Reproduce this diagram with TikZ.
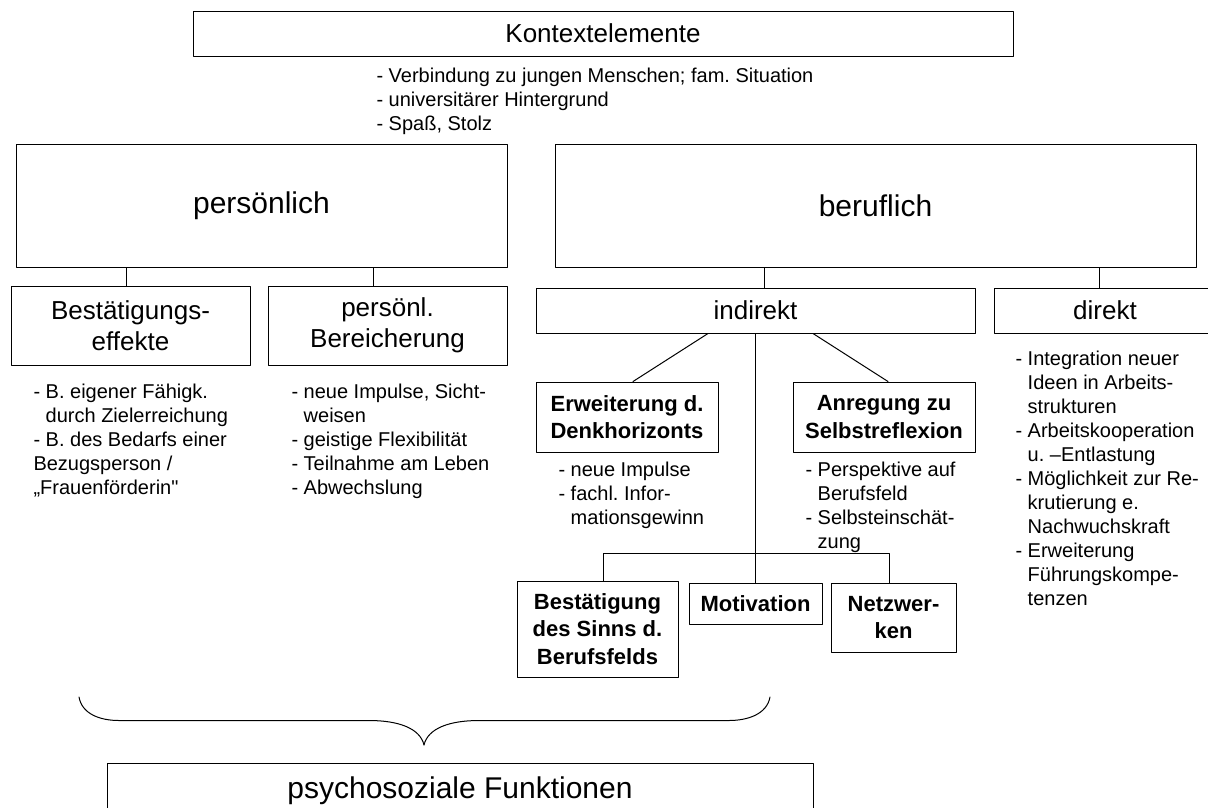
\documentclass[tikz,border=0pt]{standalone}
\usepackage{fontspec}
\setmainfont{Liberation Sans}
\newcommand{\punkte}[1]{\begin{tabular}[t]{@{}l@{}}#1\end{tabular}}
\newcommand{\ein}{\hphantom{- }}
\frenchspacing

\begin{document}
\begin{tikzpicture}[line cap=round,line join=round,x=1pt,y=-1pt,line width=1pt,
	kasten/.style={draw,inner sep=0pt,align=center},
	gross/.style={font=\fontsize{30}{36}\selectfont},
	mittel/.style={font=\fontsize{26}{31}\selectfont},
	fett/.style={font=\bfseries\fontsize{22}{27.5}\selectfont},
	notiz/.style={anchor=base west,inner sep=0pt,font=\fontsize{20}{24}\selectfont}]
			\useasboundingbox (0,0) rectangle (1208,807);
			% Ebene 0
			\node[kasten,mittel,minimum width=820pt,minimum height=45pt] (kontext) at (603,33.5) {Kontextelemente};
			\node[notiz] (kontextliste) at (376,82) {\punkte{- Verbindung zu jungen Menschen; fam. Situation\\- universitärer Hintergrund\\- Spaß, Stolz}};
			% Ebene 1
			\node[kasten,gross,minimum width=491pt,minimum height=123pt] (pers) at (261.5,205.5) {persönlich};
			\node[kasten,gross,minimum width=641pt,minimum height=123pt] (beruf) at (875.5,205.5) {beruflich};
			% Ebene 2
			\node[kasten,mittel,minimum width=239pt,minimum height=79pt] (best) at (130.5,325.5) {Bestätigungs-\\effekte};
			\node[kasten,mittel,minimum width=239pt,minimum height=79pt] (berei) at (387.5,325.5) {persönl.\\Bereicherung};
			\node[kasten,mittel,minimum width=439pt,minimum height=45pt] (indir) at (755.5,310.5) {indirekt};
			\node[kasten,mittel,minimum width=222pt,minimum height=45pt] (dir) at (1105,310.5) {direkt};
			\node[notiz] (bestliste) at (33,398) {\punkte{- B. eigener Fähigk.\\\ein durch Zielerreichung\\- B. des Bedarfs einer\\Bezugsperson /\\„Frauenförderin\textquotedbl}};
			\node[notiz] (bereiliste) at (291,398) {\punkte{- neue Impulse, Sicht-\\\ein weisen\\- geistige Flexibilität\\- Teilnahme am Leben\\- Abwechslung}};
			\node[notiz] (dirliste) at (1015,365) {\punkte{- Integration neuer\\\ein Ideen in Arbeits-\\\ein strukturen\\- Arbeitskooperation\\\ein u. –Entlastung\\- Möglichkeit zur Re-\\\ein krutierung e.\\\ein Nachwuchskraft\\- Erweiterung\\\ein Führungskompe-\\\ein tenzen}};
			% Ebene 3
			\node[kasten,fett,minimum width=182pt,minimum height=70pt] (erw) at (627,417) {Erweiterung d.\\Denkhorizonts};
			\node[kasten,fett,minimum width=182pt,minimum height=70pt] (anr) at (884,417) {Anregung zu\\Selbstreflexion};
			\node[notiz] (erwliste) at (558,476) {\punkte{- neue Impulse\\- fachl. Infor-\\\ein mationsgewinn}};
			\node[notiz] (anrliste) at (805,476) {\punkte{- Perspektive auf\\\ein Berufsfeld\\- Selbsteinschät-\\\ein zung}};
			% Ebene 4
			\node[kasten,fett,minimum width=161pt,minimum height=96pt] (sinn) at (597.5,629) {Bestätigung\\des Sinns d.\\Berufsfelds};
			\node[kasten,fett,minimum width=133pt,minimum height=41pt] (motiv) at (755.5,603.5) {Motivation};
			\node[kasten,fett,minimum width=125pt,minimum height=69pt] (netz) at (893.5,617.5) {Netzwer-\\ken};
			% Klammer
			\draw (79,697) .. controls (82,714) and (100,720.5) .. (119,720.5)--(369,720.5)
			 .. controls (398,720.5) and (420,728) .. (424,745)
			 .. controls (428,728) and (450,720.5) .. (479,720.5)--(729,720.5)
			 .. controls (748,720.5) and (767,714) .. (770,697);
			\node[kasten,gross,minimum width=706pt,minimum height=56pt] (psycho) at (460,791) {psychosoziale Funktionen};
			% Linien
			\draw ([xshift=-135.5pt]pers.south)--([xshift=-4.5pt]best.north);
			\draw ([xshift=111.5pt]pers.south)--([xshift=-14.5pt]berei.north);
			\draw ([xshift=-111.5pt]beruf.south)--([xshift=8.5pt]indir.north);
			\draw ([xshift=223.5pt]beruf.south)--([xshift=-6pt]dir.north);
			\draw ([xshift=-47.5pt]indir.south)--([xshift=6pt]erw.north);
			\draw ([xshift=57.5pt]indir.south)--([xshift=4pt]anr.north);
			\draw (indir.south)--(motiv.north);
			\draw ([xshift=5.5pt]sinn.north)--++(0,-27)-|([xshift=-4.5pt]netz.north);
	\end{tikzpicture}
\end{document}
